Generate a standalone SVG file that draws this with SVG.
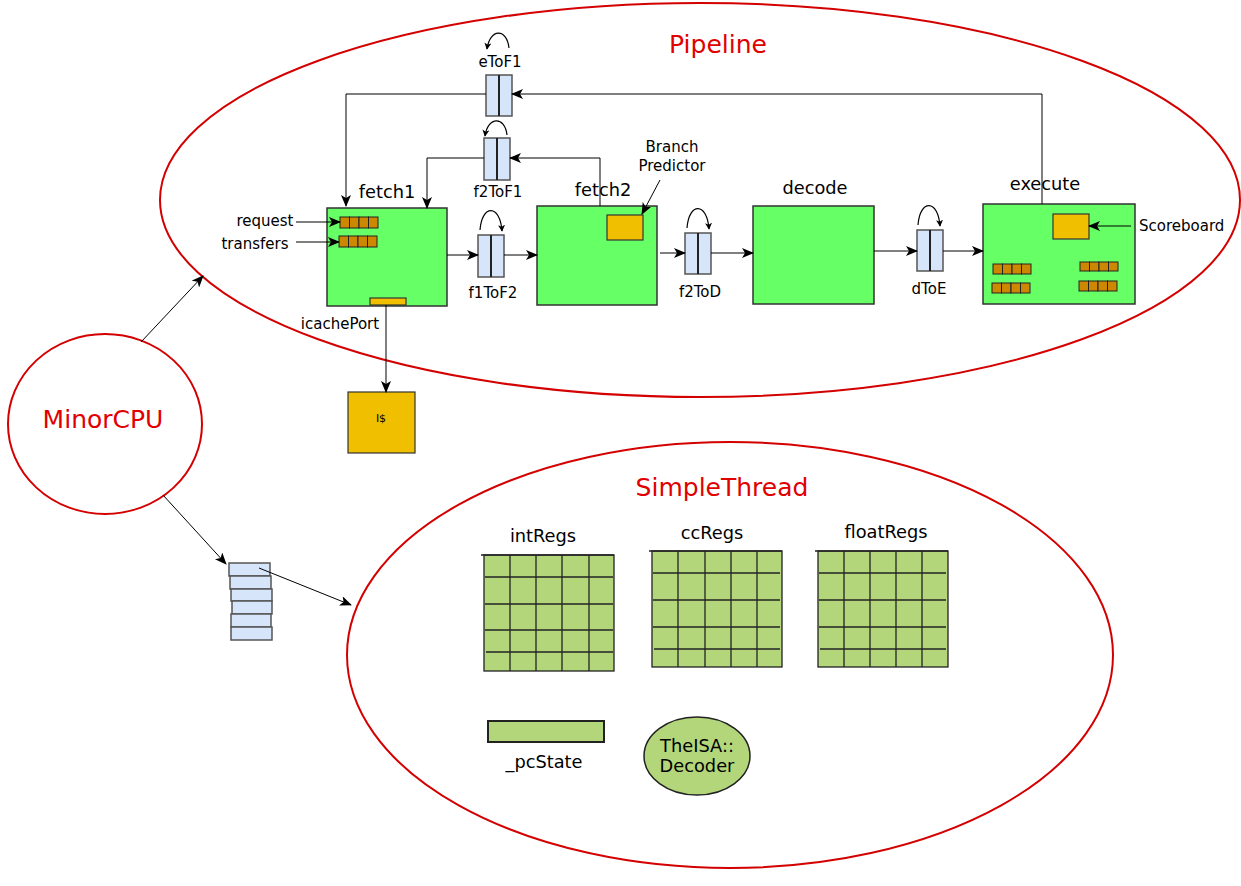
<svg xmlns="http://www.w3.org/2000/svg" width="1241" height="886" viewBox="0 0 1241 886">
<defs>
<marker id="ah" viewBox="0 0 12 10" refX="11" refY="5" markerWidth="12" markerHeight="10" markerUnits="userSpaceOnUse" orient="auto">
<path d="M0,0 L12,5 L0,10 L3,5 Z" fill="#000"/>
</marker>
<marker id="ahs" viewBox="0 0 8 8" refX="7" refY="4" markerWidth="7" markerHeight="7" markerUnits="userSpaceOnUse" orient="auto">
<path d="M0,0 L8,4 L0,8 L2,4 Z" fill="#000"/>
</marker>
<style>
.big{fill:none;stroke:#d40000;stroke-width:2}
.rt{font-family:"DejaVu Sans",sans-serif;font-size:25px;fill:#e00000;text-anchor:middle}
.t{font-family:"DejaVu Sans",sans-serif;font-size:17.8px;fill:#000;text-anchor:middle}
.s{font-family:"DejaVu Sans",sans-serif;font-size:15px;fill:#000;text-anchor:middle}
.stage{fill:#66ff66;stroke:#333;stroke-width:1.5}
.yel{fill:#f0c000;stroke:#333;stroke-width:1.2}
.q{fill:#cc8800;stroke:#222;stroke-width:1}
.latch{fill:#d7e5fb;stroke:#555;stroke-width:1.5}
.mid{stroke:#222;stroke-width:2}
.c{fill:none;stroke:#000;stroke-width:1.2}
.reg{fill:#b3d67a;stroke:#222;stroke-width:1.3}
.gl{stroke:#222;stroke-width:1.3}
</style>
</defs>

<g id="pipeline">
<ellipse class="big" cx="700" cy="200" rx="540" ry="197"/>
<text class="rt" x="718" y="53">Pipeline</text>
</g>

<g id="minorcpu">
<ellipse class="big" cx="105" cy="424" rx="97" ry="90"/>
<text class="rt" x="103" y="428">MinorCPU</text>
</g>

<g id="simplethread">
<ellipse class="big" cx="730" cy="655" rx="383" ry="213"/>
<text class="rt" x="722" y="496">SimpleThread</text>
</g>

<g id="fetch1">
<rect class="stage" x="327" y="208" width="120" height="98"/>
<text class="t" x="387" y="198">fetch1</text>
<rect class="q" x="340" y="217" width="9.5" height="11"/><rect class="q" x="349.5" y="217" width="9.5" height="11"/><rect class="q" x="359" y="217" width="9.5" height="11"/><rect class="q" x="368.5" y="217" width="9.5" height="11"/>
<rect class="q" x="339" y="236" width="9.5" height="11"/><rect class="q" x="348.5" y="236" width="9.5" height="11"/><rect class="q" x="358" y="236" width="9.5" height="11"/><rect class="q" x="367.5" y="236" width="9.5" height="11"/>
<rect class="yel" x="370" y="298" width="36" height="7"/>
<text class="s" x="340" y="329">icachePort</text>
<text class="s" x="265" y="226">request</text>
<text class="s" x="255" y="249">transfers</text>
</g>

<g id="fetch2">
<rect class="stage" x="537" y="206" width="120" height="99"/>
<text class="t" x="603" y="196">fetch2</text>
<rect class="yel" x="607" y="215" width="36" height="25"/>
<text class="s" x="672" y="152">Branch</text>
<text class="s" x="672" y="171">Predictor</text>
</g>

<g id="decode">
<rect class="stage" x="753" y="206" width="121" height="98"/>
<text class="t" x="815" y="194">decode</text>
</g>

<g id="execute">
<rect class="stage" x="983" y="204" width="152" height="100"/>
<text class="t" x="1045" y="190">execute</text>
<rect class="yel" x="1053" y="214" width="36" height="25"/>
<text class="s" x="1139" y="231" style="text-anchor:start">Scoreboard</text>
<rect class="q" x="993" y="264" width="9.5" height="10"/><rect class="q" x="1002.5" y="264" width="9.5" height="10"/><rect class="q" x="1012" y="264" width="9.5" height="10"/><rect class="q" x="1021.5" y="264" width="9.5" height="10"/>
<rect class="q" x="992" y="283" width="9.5" height="10"/><rect class="q" x="1001.5" y="283" width="9.5" height="10"/><rect class="q" x="1011" y="283" width="9.5" height="10"/><rect class="q" x="1020.5" y="283" width="9.5" height="10"/>
<rect class="q" x="1080" y="262" width="9.5" height="9"/><rect class="q" x="1089.5" y="262" width="9.5" height="9"/><rect class="q" x="1099" y="262" width="9.5" height="9"/><rect class="q" x="1108.5" y="262" width="9.5" height="9"/>
<rect class="q" x="1079" y="281" width="9.5" height="10"/><rect class="q" x="1088.5" y="281" width="9.5" height="10"/><rect class="q" x="1098" y="281" width="9.5" height="10"/><rect class="q" x="1107.5" y="281" width="9.5" height="10"/>
</g>

<g id="icache">
<rect class="yel" x="348" y="392" width="67" height="61"/>
<text x="381" y="422" style="font-family:'DejaVu Sans',sans-serif;font-size:11px;text-anchor:middle">I$</text>
</g>

<g id="eToF1">
<rect class="latch" x="486" y="75" width="26" height="41"/>
<line class="mid" x1="499" y1="75" x2="499" y2="116"/>
<text class="s" x="500" y="67">eToF1</text>
<path class="c" d="M509,48 C507,28 490,28 487,49" marker-end="url(#ahs)"/>
</g>

<g id="f2ToF1">
<rect class="latch" x="484" y="138" width="26" height="42"/>
<line class="mid" x1="497" y1="138" x2="497" y2="180"/>
<text class="s" x="498" y="197">f2ToF1</text>
<path class="c" d="M507,135 C505,116 488,116 485,136" marker-end="url(#ahs)"/>
</g>

<g id="f1ToF2">
<rect class="latch" x="478" y="235" width="26" height="42"/>
<line class="mid" x1="491" y1="235" x2="491" y2="277"/>
<text class="s" x="493" y="298">f1ToF2</text>
<path class="c" d="M480,230 C482,204 500,204 502,231" marker-end="url(#ahs)"/>
</g>

<g id="f2ToD">
<rect class="latch" x="685" y="233" width="26" height="41"/>
<line class="mid" x1="698" y1="233" x2="698" y2="274"/>
<text class="s" x="700" y="297">f2ToD</text>
<path class="c" d="M687,228 C689,202 707,202 709,229" marker-end="url(#ahs)"/>
</g>

<g id="dToE">
<rect class="latch" x="917" y="230" width="26" height="41"/>
<line class="mid" x1="930" y1="230" x2="930" y2="271"/>
<text class="s" x="929" y="294">dToE</text>
<path class="c" d="M918,225 C920,199 938,199 940,226" marker-end="url(#ahs)"/>
</g>

<g id="threadstack">
<rect class="latch" x="229" y="563" width="41" height="13"/>
<rect class="latch" x="230" y="576" width="41" height="13"/>
<rect class="latch" x="231" y="589" width="41" height="12"/>
<rect class="latch" x="232" y="601" width="40" height="13"/>
<rect class="latch" x="231" y="614" width="40" height="13"/>
<rect class="latch" x="231" y="627" width="41" height="13"/>
</g>

<g id="intRegs">
<text class="t" x="543" y="542">intRegs</text>
<rect class="reg" x="484" y="555" width="130" height="116"/>
<line class="gl" x1="481" y1="555" x2="614" y2="555"/>
<line class="gl" x1="485" y1="577" x2="613" y2="577"/>
<line class="gl" x1="485" y1="604" x2="613" y2="604"/>
<line class="gl" x1="485" y1="630" x2="613" y2="630"/>
<line class="gl" x1="486" y1="652" x2="613" y2="652"/>
<line class="gl" x1="510" y1="555" x2="510" y2="671"/>
<line class="gl" x1="536" y1="555" x2="536" y2="671"/>
<line class="gl" x1="562" y1="555" x2="562" y2="671"/>
<line class="gl" x1="589" y1="555" x2="589" y2="671"/>
</g>

<g id="ccRegs">
<text class="t" x="712" y="539">ccRegs</text>
<rect class="reg" x="652" y="551" width="130" height="116"/>
<line class="gl" x1="649" y1="551" x2="782" y2="551"/>
<line class="gl" x1="653" y1="573" x2="780" y2="573"/>
<line class="gl" x1="653" y1="600" x2="780" y2="600"/>
<line class="gl" x1="653" y1="627" x2="780" y2="627"/>
<line class="gl" x1="654" y1="649" x2="780" y2="649"/>
<line class="gl" x1="678" y1="551" x2="678" y2="667"/>
<line class="gl" x1="705" y1="551" x2="705" y2="667"/>
<line class="gl" x1="731" y1="551" x2="731" y2="667"/>
<line class="gl" x1="757" y1="551" x2="757" y2="667"/>
</g>

<g id="floatRegs">
<text class="t" x="886" y="538">floatRegs</text>
<rect class="reg" x="818" y="551" width="130" height="116"/>
<line class="gl" x1="815" y1="551" x2="948" y2="551"/>
<line class="gl" x1="819" y1="573" x2="946" y2="573"/>
<line class="gl" x1="819" y1="600" x2="946" y2="600"/>
<line class="gl" x1="819" y1="627" x2="946" y2="627"/>
<line class="gl" x1="820" y1="649" x2="946" y2="649"/>
<line class="gl" x1="844" y1="551" x2="844" y2="667"/>
<line class="gl" x1="870" y1="551" x2="870" y2="667"/>
<line class="gl" x1="896" y1="551" x2="896" y2="667"/>
<line class="gl" x1="922" y1="551" x2="922" y2="667"/>
</g>

<g id="pcState">
<rect class="reg" x="488" y="721" width="116" height="21" style="stroke-width:2"/>
<text class="t" x="544" y="768">_pcState</text>
</g>

<g id="decoder">
<ellipse class="reg" cx="697" cy="756" rx="53" ry="39" style="stroke-width:1.5"/>
<text class="t" x="697" y="752">TheISA::</text>
<text class="t" x="697" y="772">Decoder</text>
</g>

<g id="connectors" fill="none" stroke="#000" stroke-width="1">
<polyline points="1042,204 1042,94 512,94" marker-end="url(#ah)"/>
<polyline points="486,94 346,94 346,206" marker-end="url(#ah)"/>
<polyline points="600,206 600,158 510,158" marker-end="url(#ah)"/>
<polyline points="484,158 427,158 427,208" marker-end="url(#ah)"/>
<line x1="296" y1="222" x2="340" y2="222" marker-end="url(#ah)"/>
<line x1="296" y1="242" x2="339" y2="242" marker-end="url(#ah)"/>
<line x1="447" y1="255" x2="478" y2="255" marker-end="url(#ah)"/>
<line x1="504" y1="255" x2="537" y2="255" marker-end="url(#ah)"/>
<line x1="660" y1="253" x2="685" y2="253" marker-end="url(#ah)"/>
<line x1="711" y1="253" x2="753" y2="253" marker-end="url(#ah)"/>
<line x1="874" y1="251" x2="917" y2="251" marker-end="url(#ah)"/>
<line x1="943" y1="251" x2="983" y2="251" marker-end="url(#ah)"/>
<line x1="1131" y1="226" x2="1089" y2="226" marker-end="url(#ah)"/>
<line x1="660" y1="180" x2="642" y2="214" marker-end="url(#ah)"/>
<line x1="386" y1="305" x2="386" y2="392" marker-end="url(#ah)"/>
<line x1="141" y1="342" x2="203" y2="276" marker-end="url(#ah)"/>
<line x1="163" y1="495" x2="226" y2="564" marker-end="url(#ah)"/>
<line x1="259" y1="568" x2="351" y2="605" marker-end="url(#ah)"/>
</g>
</svg>
